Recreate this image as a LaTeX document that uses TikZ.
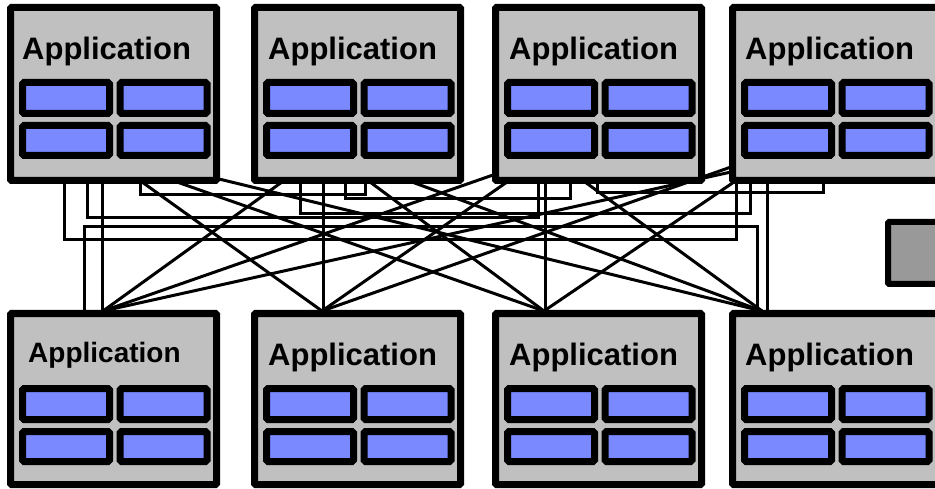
\documentclass[tikz,border=0pt]{standalone}
\usepackage{fontspec}
\setmainfont{Liberation Sans}
\definecolor{appgray}{RGB}{192,192,192}
\definecolor{appblue}{RGB}{122,137,255}
\definecolor{boxgray}{RGB}{153,153,153}
\newcommand\appbox[7]{%
  \node[appframe, minimum height={#4-7}] (#1) at ({#2+106.5},{#3+#4/2}) {};
  \node[cell] (#1a) at ({#2+59},{#3+94}) {};
  \node[cell] (#1b) at ({#2+156.5},{#3+94}) {};
  \node[cell, minimum height=30pt] (#1c) at ({#2+59},{#3+136.5}) {};
  \node[cell, minimum height=30pt] (#1d) at ({#2+156.5},{#3+136.5}) {};
  \node[apptext, font=\bfseries\fontsize{#5}{#5}\selectfont] (#1t) at ({#2+#7},{#3+#6}) {Application};
}
\begin{document}
\begin{tikzpicture}[x=1pt,y=-1pt,
  wire/.style={line width=3pt},
  appframe/.style={draw, line width=7pt, fill=appgray, rounded corners=1pt, inner sep=0pt, minimum width=206pt},
  cell/.style={draw, line width=7pt, fill=appblue, rounded corners=1.5pt, inner sep=0pt, minimum width=87pt, minimum height=31pt},
  apptext/.style={inner sep=0pt, anchor=base west},
  sidebox/.style={draw, line width=6pt, fill=boxgray, rounded corners=1pt, inner sep=0pt, minimum width=60pt, minimum height=62pt}]
\useasboundingbox (0,0) rectangle (935,489);
% ---- attachment points on the top row (bottom edges) ----
\coordinate (t1a) at (64,182);  \coordinate (t1b) at (87,182);
\coordinate (t1c) at (102,182); \coordinate (t1d) at (140,182);
\coordinate (t1e) at (142,182); \coordinate (t1f) at (177,182);
\coordinate (t1g) at (219,179);
\coordinate (t2a) at (282,182); \coordinate (t2b) at (300,182);
\coordinate (t2c) at (323,182); \coordinate (t2d) at (345,182);
\coordinate (t2e) at (365,182); \coordinate (t2f) at (370,182);
\coordinate (t2g) at (412,182);
\coordinate (t3a) at (493,175); \coordinate (t3b) at (507,182);
\coordinate (t3c) at (538,182); \coordinate (t3d) at (545,182);
\coordinate (t3e) at (570,182); \coordinate (t3f) at (585,182);
\coordinate (t3g) at (597,182);
\coordinate (t4a) at (731,172); \coordinate (t4b) at (731,167);
\coordinate (t4c) at (734,182); \coordinate (t4d) at (736,182);
\coordinate (t4e) at (750,182); \coordinate (t4f) at (767,182);
\coordinate (t4g) at (823,182);
% ---- attachment points on the bottom row (top edges) ----
\coordinate (b1a) at (84,312);  \coordinate (b1b) at (102,312);
\coordinate (b1c) at (103,311);
\coordinate (b2a) at (323,312); \coordinate (b2c) at (322,311);
\coordinate (b3a) at (545,312); \coordinate (b3c) at (544,311);
\coordinate (b4a) at (757,312); \coordinate (b4b) at (767,312);
\coordinate (b4c) at (762,311);
% ---- top-to-top links ----
\draw[wire] (t1a) -- ++(0,58) -| (t4d);
\draw[wire] (t1b) -- ++(0,36) -| (t3c);
\draw[wire] (t1d) -- ++(0,13) -| (t2e);
\draw[wire] (t2b) -- ++(0,32) -| (t4e);
\draw[wire] (t2d) -- ++(0,17) -| (t3e);
\draw[wire] (t3g) -- ++(0,11) -| (t4g);
% ---- bottom-to-bottom link ----
\draw[wire] (b1a) -- ++(0,-85) -| (b4a);
% ---- straight verticals ----
\draw[wire] (t1c) -- (b1b);
\draw[wire] (t2c) -- (b2a);
\draw[wire] (t3d) -- (b3a);
\draw[wire] (t4f) -- (b4b);
% ---- diagonals ----
\draw[wire] (t1e) -- (b2c);
\draw[wire] (t1f) -- (b3c);
\draw[wire] (t1g) -- (b4c);
\draw[wire] (t2a) -- (b1c);
\draw[wire] (t2f) -- (b3c);
\draw[wire] (t2g) -- (b4c);
\draw[wire] (t3a) -- (b1c);
\draw[wire] (t3b) -- (b2c);
\draw[wire] (t3f) -- (b4c);
\draw[wire] (t4a) -- (b1c);
\draw[wire] (t4b) -- (b2c);
\draw[wire] (t4c) -- (b3c);
% ---- application boxes ----
\appbox{T1}{7}{4}{180}{31}{56}{15}
\appbox{T2}{251}{4}{180}{31}{56}{17}
\appbox{T3}{492}{4}{180}{31}{56}{17}
\appbox{T4}{729}{4}{180}{31}{56}{16}
\appbox{B1}{7}{310}{178}{28}{52}{21}
\appbox{B2}{251}{310}{178}{31}{55}{17}
\appbox{B3}{492}{310}{178}{31}{55}{17}
\appbox{B4}{729}{310}{178}{31}{55}{16}
% ---- side box at the right edge ----
\node[sidebox] (S) at (918,253) {};
\end{tikzpicture}
\end{document}
